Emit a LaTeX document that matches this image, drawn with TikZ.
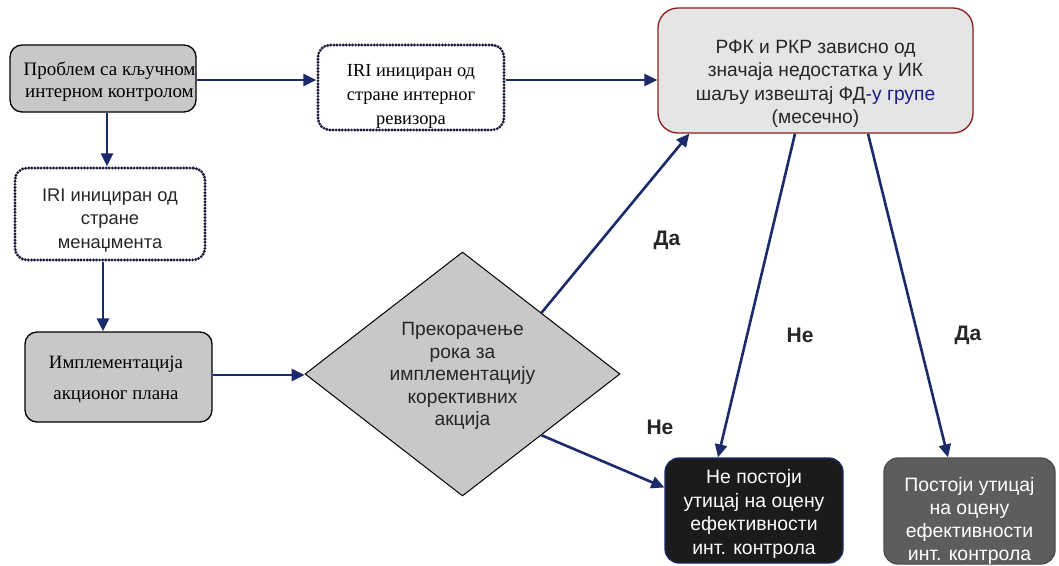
\documentclass[tikz,border=0pt]{standalone}
\usepackage{fontspec}
\setmainfont{Liberation Serif}
\setsansfont{Liberation Sans}
\usetikzlibrary{shapes.geometric,arrows.meta}
\definecolor{navy}{HTML}{1B2A6B}
\definecolor{boxgray}{HTML}{C8C8C8}
\definecolor{lightbox}{HTML}{E5E5E5}
\definecolor{darkred}{HTML}{8B1C1C}
\definecolor{blackbox}{HTML}{1C1A1A}
\definecolor{darkgraybox}{HTML}{5F5C5C}
\definecolor{dotcol}{HTML}{1A1A3A}
\definecolor{bluetext}{HTML}{1A1A8C}
\newcommand\dtext[2]{\smash{\raisebox{-#1pt}{\begin{tabular}{@{}c@{}}#2\end{tabular}}}}
\tikzset{
  serifbox/.style={draw=black, line width=1.3pt, fill=boxgray, rounded corners=12pt, align=center,
    font=\rmfamily\fontsize{19}{22}\selectfont, inner sep=0pt},
  dotbox/.style={draw=dotcol, line width=3.2pt, dash pattern=on 0pt off 3.1pt, line cap=round,
    rounded corners=12pt, fill=white, align=center, inner sep=0pt},
  sansbox/.style={align=center, inner sep=0pt, font=\sffamily\fontsize{19.2}{23.2}\selectfont},
  conn/.style={draw=navy, line width=2.6pt, -{Triangle[length=13pt,width=12pt]}},
  lbl/.style={font=\sffamily\bfseries\fontsize{21}{22}\selectfont, text=black!85, inner sep=0pt},
}
\begin{document}
\begin{tikzpicture}[x=1pt,y=-1pt]
\useasboundingbox (0,0) rectangle (1059,565);

\node[serifbox, minimum width=186pt, minimum height=67pt] (prob) at (103,78.5)
  {\hspace*{13pt}\dtext{8.25}{Проблем са кључном\\интерном контролом}};
\node[dotbox, minimum width=186pt, minimum height=85pt, font=\rmfamily\fontsize{18.4}{24}\selectfont] (iriint) at (411,87.5)
  {\dtext{13}{IRI инициран од\\стране интерног\\ревизора}};
\node[sansbox, draw=darkred, line width=1.3pt, fill=lightbox, rounded corners=20pt,
  minimum width=315pt, minimum height=125pt, text=black!85] (rfk) at (815.5,70.5)
  {\dtext{18.5}{РФК и РКР зависно од\\значаја недостатка у ИК\\шаљу извештај ФД{\color{bluetext}-у групе}\\(месечно)}};
\node[dotbox, sansbox, minimum width=190pt, minimum height=92pt, text=black!85,
  font=\sffamily\fontsize{18.3}{23.5}\selectfont] (irimgmt) at (110,214)
  {\dtext{10.5}{IRI инициран од\\стране\\менаџмента}};
\node[serifbox, minimum width=187pt, minimum height=90pt, font=\rmfamily\fontsize{18.8}{31}\selectfont] (impl) at (118.5,377)
  {\dtext{5.5}{Имплементација\\акционог плана}\hspace*{5pt}};
\node[diamond, draw=black, line width=1pt, fill=boxgray, minimum width=315pt, minimum height=244pt,
  inner sep=0pt, align=center, font=\sffamily\fontsize{19.2}{22.5}\selectfont, text=black!85] (dia) at (462.5,374)
  {\dtext{7.5}{Прекорачење\\рока за\\имплементацију\\корективних\\акција}};
\node[sansbox, draw=navy, line width=1.3pt, fill=blackbox, rounded corners=14pt, text=white,
  minimum width=178pt, minimum height=105pt, font=\sffamily\fontsize{19.4}{23.5}\selectfont] (ne) at (754,510.5)
  {\dtext{9}{Не постоји\\утицај на оцену\\ефективности\\инт. контрола}};
\node[sansbox, draw=black!70, line width=1.3pt, fill=darkgraybox, rounded corners=14pt, text=white,
  minimum width=171pt, minimum height=106pt, font=\sffamily\fontsize{19.4}{23}\selectfont] (da) at (969.5,511)
  {\dtext{15.5}{Постоји утицај\\на оцену\\ефективности\\инт. контрола}};

\node[lbl] (l1) at (667,240) {Да};
\node[lbl] (l2) at (800,335) {Не};
\node[lbl] (l3) at (968,335) {Да};
\node[lbl] (l4) at (660,427) {Не};

\draw[conn] ([yshift=-1.5pt]prob.east) -- ([yshift=-1.5pt]prob.east -| iriint.west);
\draw[conn] ([yshift=7.5pt]iriint.east) -- ([yshift=7.5pt]iriint.east -| rfk.west);
\draw[conn] ([xshift=4pt]prob.south) -- ([xshift=4pt]prob.south |- irimgmt.north);
\draw[conn] ([xshift=-7pt]irimgmt.south) -- ([xshift=-7pt]irimgmt.south |- impl.north);
\draw[conn] ([yshift=2pt]impl.east) -- ([yshift=2pt]impl.east -| dia.west);
\draw[conn] (dia.north east) -- ([xshift=32pt]rfk.south west);
\draw[conn] (dia.south east) -- ([yshift=23pt]ne.west);
\draw[conn] ([xshift=-20.5pt]rfk.south) -- ([xshift=-36pt]ne.north);
\draw[conn] ([xshift=52.5pt]rfk.south) -- ([xshift=-21.5pt]da.north);
\end{tikzpicture}
\end{document}
